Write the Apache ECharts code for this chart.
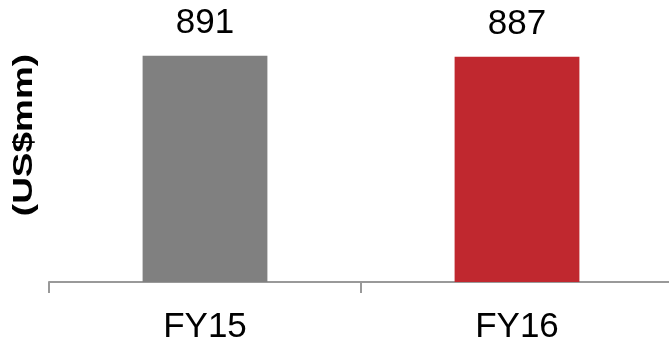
<!DOCTYPE html>
<html>
<head>
<meta charset="utf-8">
<script src="https://cdn.jsdelivr.net/npm/echarts@6/dist/echarts.min.js"></script>
<style>
  html, body { margin: 0; padding: 0; background: #fff; }
  #main { width: 669px; height: 343px; }
</style>
</head>
<body>
<div id="main"></div>
<script>
var categories = ['FY15', 'FY16']
var values = [891, 887]
var barColors = ['#808080', '#C0282F']
var unitLabel = '(US$mm)'

var myChart = echarts.init(document.getElementById('main'))
var option = {
  animation: false,
  grid: {
    left: 49,
    right: -4,
    top: 28,
    bottom: 61,
    outerBoundsMode: 'none',
    containLabel: false
  },
  // unit label on the left, slightly stretched like the original
  graphic: [{
    type: 'text',
    x: 25,
    y: 135,
    rotation: Math.PI / 2,
    scaleX: 1.37,
    style: {
      text: unitLabel,
      font: 'bold 27px "Liberation Sans"',
      fill: '#000',
      align: 'center',
      verticalAlign: 'middle'
    }
  }],
  xAxis: {
    type: 'category',
    data: categories,
    axisLine: { lineStyle: { color: '#999', width: 2 } },
    axisTick: { show: true, length: 11, lineStyle: { color: '#999', width: 2 } },
    axisLabel: {
      margin: 28,
      fontSize: 35,
      color: '#000',
      fontFamily: 'Liberation Sans'
    }
  },
  yAxis: {
    type: 'value',
    min: 0,
    max: 1000,
    axisLine: { show: false },
    axisTick: { show: false },
    axisLabel: { show: false },
    splitLine: { show: false }
  },
  series: [{
    type: 'bar',
    barWidth: '40%',
    data: values.map(function (v, i) {
      return { value: v, itemStyle: { color: barColors[i] } }
    }),
    label: {
      show: true,
      position: 'top',
      distance: 15,
      fontSize: 35,
      color: '#000',
      fontFamily: 'Liberation Sans'
    }
  }]
}
myChart.setOption(option)
</script>
</body>
</html>
